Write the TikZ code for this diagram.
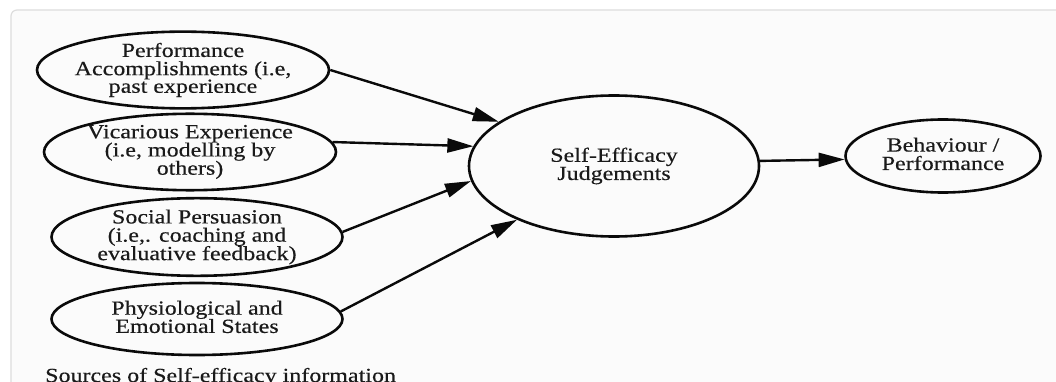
\documentclass[tikz,border=0pt]{standalone}
\usepackage{fontspec}
\setmainfont{Liberation Serif}[FakeStretch=1.2,FakeBold=0.4]
\usetikzlibrary{shapes.geometric,arrows.meta}
\definecolor{bgpanel}{HTML}{FBFBFB}
\definecolor{framec}{HTML}{DDDDDD}
\definecolor{inkc}{HTML}{0A0A0A}
\definecolor{txtc}{HTML}{1A1A1A}
\newcommand\mltext[1]{\makebox[0pt]{\begin{tabular}{@{}c@{}}#1\end{tabular}}}
\begin{document}
\begin{tikzpicture}[x=1pt,y=-1pt,
  oval/.style={ellipse,draw=inkc,line width=2.6pt,inner sep=0pt,text=txtc,
    font=\fontsize{20}{14.5}\selectfont},
  conn/.style={draw=inkc,line width=2.4pt,-{Triangle[length=26pt,width=14pt]}},
  caption/.style={text=txtc,font=\fontsize{20}{14.5}\selectfont,inner sep=0pt}]
\useasboundingbox (0,0) rectangle (1056,382);
\fill[white] (0,0) rectangle (1056,382);
\draw[framec,fill=bgpanel,line width=1.2pt,rounded corners=6pt] (11,10) rectangle (1080,400);
\node[oval,minimum width=292pt,minimum height=71pt] (p1) at (183,70)
  {\mltext{Performance\\Accomplishments (i.e,\\past experience}};
\node[oval,minimum width=292pt,minimum height=71pt] (p2) at (190,152)
  {\mltext{Vicarious Experience\\(i.e, modelling by\\others)}};
\node[oval,minimum width=291pt,minimum height=73pt] (p3) at (197,237)
  {\mltext{Social Persuasion\\(i.e,. coaching and\\evaluative feedback)}};
\node[oval,minimum width=291pt,minimum height=72pt] (p4) at (197,319)
  {\mltext{Physiological and\\Emotional States}};
\node[oval,minimum width=290pt,minimum height=141pt] (se) at (614,166)
  {\mltext{Self-Efficacy\\Judgements}};
\node[oval,minimum width=195pt,minimum height=73pt] (be) at (943,156)
  {\mltext{Behaviour /\\Performance}};
\node[caption,anchor=base west] (cap) at (45,382) {Sources of Self-efficacy information};
\draw[conn] (p1.east) -- (se.159);
\draw[conn] (p2.4) -- (se.172);
\draw[conn] (p3.2) -- (se.186);
\draw[conn] (p4.3) -- (se.209);
\draw[conn] (se.2) -- (be.182);
\end{tikzpicture}
\end{document}
